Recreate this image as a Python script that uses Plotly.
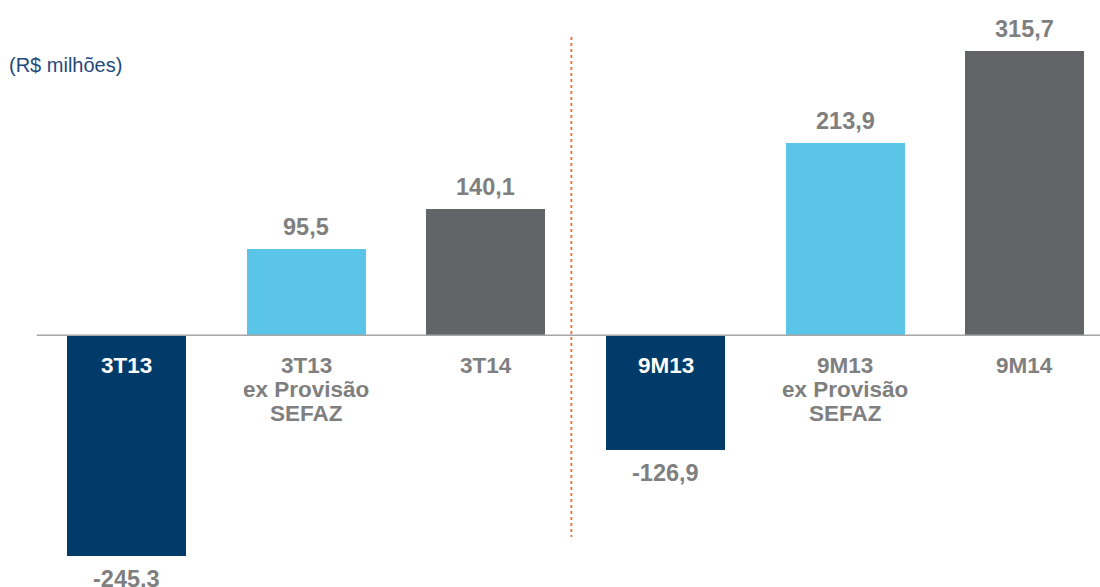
import plotly.graph_objects as go

categories = ["3T13", "3T13<br>ex Provisão<br>SEFAZ", "3T14", "9M13", "9M13<br>ex Provisão<br>SEFAZ", "9M14"]
values = [-245.3, 95.5, 140.1, -126.9, 213.9, 315.7]
value_labels = ["-245,3", "95,5", "140,1", "-126,9", "213,9", "315,7"]
colors = ["#003B69", "#5BC5E8", "#636467", "#003B69", "#5BC5E8", "#636467"]
unit_label = "(R$ milhões)"

xs = list(range(len(values)))
FAMILY = "Liberation Sans, Arial, sans-serif"
VAL_FONT = dict(family=FAMILY, size=23.5, color="#7F7F7F")
CAT_FONT_SIZE = 22.5

fig = go.Figure()
fig.add_trace(go.Bar(
    x=xs, y=values, width=0.662,
    marker=dict(color=colors, line=dict(width=0)),
    hoverinfo="skip",
))

annotations = []
for i, (v, lab) in enumerate(zip(values, value_labels)):
    if v >= 0:
        annotations.append(dict(x=i, y=v, xref="x", yref="y", text=f"<b>{lab}</b>",
                                showarrow=False, yanchor="bottom", yshift=7, font=VAL_FONT))
    else:
        annotations.append(dict(x=i, y=v, xref="x", yref="y", text=f"<b>{lab}</b>",
                                showarrow=False, yanchor="top", yshift=-8, font=VAL_FONT))
    lines = categories[i].split("<br>")
    col = "#FFFFFF" if v < 0 else "#7F7F7F"
    for j, line in enumerate(lines):
        annotations.append(dict(x=i, y=0, xref="x", yref="y", text=f"<b>{line}</b>",
                                showarrow=False, yanchor="middle", yshift=-(30 + 24 * j),
                                font=dict(family=FAMILY, size=CAT_FONT_SIZE, color=col)))

annotations.append(dict(x=0.006, y=1, xref="paper", yref="paper",
                        text=unit_label, showarrow=False, xanchor="left", yanchor="top",
                        yshift=-52,
                        font=dict(family=FAMILY, size=20, color="#1F497D")))

shapes = [
    dict(type="line", xref="x", yref="y", x0=-0.5, x1=5.5, y0=0, y1=0,
         line=dict(color="#A6A6A6", width=1.5)),
    dict(type="line", xref="x", yref="y", x0=2.476, x1=2.476, y0=331.4, y1=-224.1,
         line=dict(color="#F26B3A", width=1.8, dash="dot")),
]

fig.update_layout(
    width=1100, height=587,
    margin=dict(l=0, r=0, t=0, b=0),
    paper_bgcolor="white", plot_bgcolor="white",
    showlegend=False,
    bargap=0,
    xaxis=dict(range=[-0.704, 5.418], visible=False, fixedrange=True),
    yaxis=dict(range=[-279.7, 372.6], visible=False, fixedrange=True),
    annotations=annotations,
    shapes=shapes,
)

fig.write_html("out.html",
               config={"displayModeBar": False, "staticPlot": True},
               post_script="document.body.style.margin='0';document.body.style.overflow='hidden';")
